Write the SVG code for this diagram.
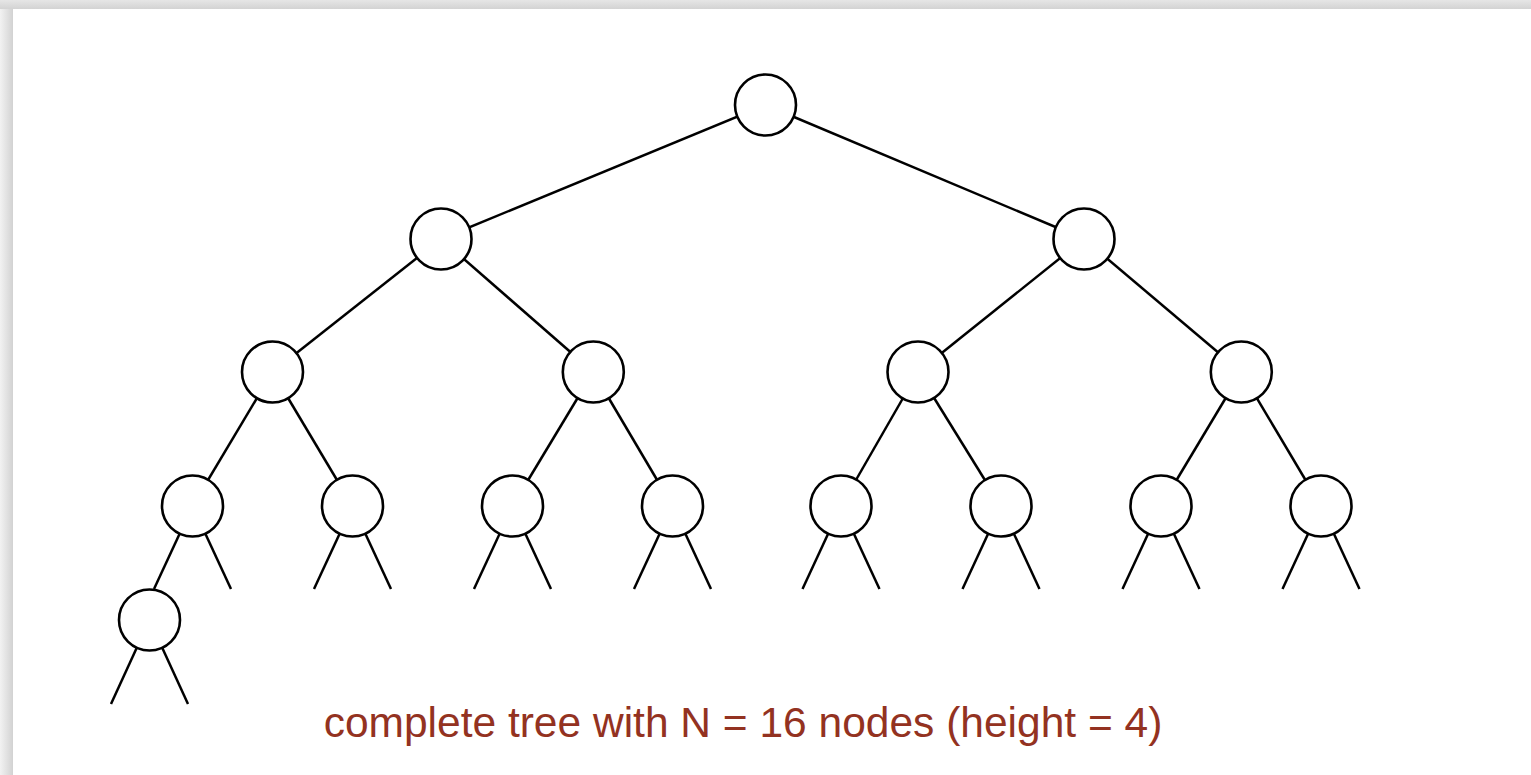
<svg xmlns="http://www.w3.org/2000/svg" width="1531" height="775" viewBox="0 0 1531 775">
<defs>
<linearGradient id="gl" x1="0" y1="0" x2="1" y2="0">
<stop offset="0" stop-color="#f2f2f2"/><stop offset="1" stop-color="#d2d2d2"/>
</linearGradient>
<linearGradient id="gt" x1="0" y1="0" x2="0" y2="1">
<stop offset="0" stop-color="#e6e6e6"/><stop offset="1" stop-color="#d3d3d3"/>
</linearGradient>
<style>
.e{stroke:#000;stroke-width:2.5;fill:none;stroke-linecap:butt}
.n{fill:#fff;stroke:#000;stroke-width:2.6}
.cap{font-family:"Liberation Sans",Arial,sans-serif;font-size:42.5px;fill:#933221}
</style>
</defs>
<rect width="1531" height="775" fill="#e8e8e8"/>
<rect x="0" y="0" width="13" height="775" fill="url(#gl)"/>
<rect x="0" y="0" width="1531" height="9" fill="url(#gt)"/>
<rect x="13" y="9" width="1518" height="766" fill="#fff"/>
<g id="connectors">
<line class="e" x1="765.5" y1="105" x2="441" y2="239"/>
<line class="e" x1="765.5" y1="105" x2="1084" y2="239"/>
<line class="e" x1="441" y1="239" x2="272.5" y2="372"/>
<line class="e" x1="441" y1="239" x2="593.3" y2="372"/>
<line class="e" x1="1084" y1="239" x2="918" y2="372"/>
<line class="e" x1="1084" y1="239" x2="1241.3" y2="372"/>
<line class="e" x1="272.5" y1="372" x2="192.5" y2="506"/>
<line class="e" x1="272.5" y1="372" x2="352.5" y2="506"/>
<line class="e" x1="593.3" y1="372" x2="512.5" y2="506"/>
<line class="e" x1="593.3" y1="372" x2="672.5" y2="506"/>
<line class="e" x1="918" y1="372" x2="841" y2="506"/>
<line class="e" x1="918" y1="372" x2="1001" y2="506"/>
<line class="e" x1="1241.3" y1="372" x2="1161" y2="506"/>
<line class="e" x1="1241.3" y1="372" x2="1321" y2="506"/>
<line class="e" x1="192.5" y1="506" x2="154" y2="589"/>
<line class="e" x1="192.5" y1="506" x2="231" y2="589"/>
<line class="e" x1="352.5" y1="506" x2="314" y2="589"/>
<line class="e" x1="352.5" y1="506" x2="391" y2="589"/>
<line class="e" x1="512.5" y1="506" x2="474" y2="589"/>
<line class="e" x1="512.5" y1="506" x2="551" y2="589"/>
<line class="e" x1="672.5" y1="506" x2="634" y2="589"/>
<line class="e" x1="672.5" y1="506" x2="711" y2="589"/>
<line class="e" x1="841" y1="506" x2="802.5" y2="589"/>
<line class="e" x1="841" y1="506" x2="879.5" y2="589"/>
<line class="e" x1="1001" y1="506" x2="962.5" y2="589"/>
<line class="e" x1="1001" y1="506" x2="1039.5" y2="589"/>
<line class="e" x1="1161" y1="506" x2="1122.5" y2="589"/>
<line class="e" x1="1161" y1="506" x2="1199.5" y2="589"/>
<line class="e" x1="1321" y1="506" x2="1282.5" y2="589"/>
<line class="e" x1="1321" y1="506" x2="1359.5" y2="589"/>
<line class="e" x1="149.5" y1="620" x2="111" y2="704"/>
<line class="e" x1="149.5" y1="620" x2="188" y2="704"/>
</g>
<g id="n1"><circle class="n" cx="765.5" cy="105" r="30.5"/></g>
<g id="n2"><circle class="n" cx="441" cy="239" r="30.5"/></g>
<g id="n3"><circle class="n" cx="1084" cy="239" r="30.5"/></g>
<g id="n4"><circle class="n" cx="272.5" cy="372" r="30.5"/></g>
<g id="n5"><circle class="n" cx="593.3" cy="372" r="30.5"/></g>
<g id="n6"><circle class="n" cx="918" cy="372" r="30.5"/></g>
<g id="n7"><circle class="n" cx="1241.3" cy="372" r="30.5"/></g>
<g id="n8"><circle class="n" cx="192.5" cy="506" r="30.5"/></g>
<g id="n9"><circle class="n" cx="352.5" cy="506" r="30.5"/></g>
<g id="n10"><circle class="n" cx="512.5" cy="506" r="30.5"/></g>
<g id="n11"><circle class="n" cx="672.5" cy="506" r="30.5"/></g>
<g id="n12"><circle class="n" cx="841" cy="506" r="30.5"/></g>
<g id="n13"><circle class="n" cx="1001" cy="506" r="30.5"/></g>
<g id="n14"><circle class="n" cx="1161" cy="506" r="30.5"/></g>
<g id="n15"><circle class="n" cx="1321" cy="506" r="30.5"/></g>
<g id="n16"><circle class="n" cx="149.5" cy="620" r="30.5"/></g>
<text class="cap" x="743" y="737" text-anchor="middle">complete tree with N = 16 nodes (height = 4)</text>
</svg>
